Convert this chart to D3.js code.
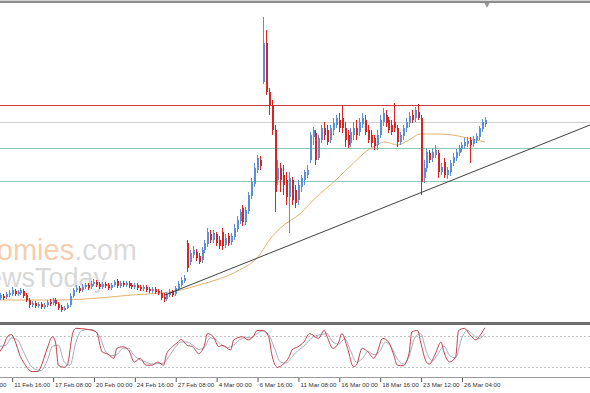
<!DOCTYPE html>
<html lang="en">
<head>
  <meta charset="UTF-8">
  <title>Price chart with stochastic</title>
  <script src="https://d3js.org/d3.v7.min.js"></script>
  <style>
    body { margin: 0; background: #fff; }
    svg { display: block; font-family: "Liberation Sans", Arial, sans-serif; }
    .axis text { font-size: 6.2px; fill: #333; }
    .axis line { stroke: #555; }
  </style>
</head>
<body>
  <svg width="590" height="393"></svg>
  <script>
    // candles: [open, high, low, close], one per bar
    const candles = [
      [102,107,100,105],[104,106,100,102],[103,108,101,106],[105,110,103,107],[106,113,104,110],
      [109,111,104,106],[106,110,104,108],[107,112,105,110],[109,111,102,104],[105,107,98,100],
      [100,102,92,95],[95,99,93,97],[97,99,92,94],[94,98,92,96],[96,98,91,93],
      [93,97,91,95],[95,100,93,98],[98,101,94,96],[97,102,95,100],[100,102,94,96],
      [96,98,90,92],[93,95,88,90],[90,94,89,92],[92,97,91,95],[95,107,93,104],
      [104,112,102,110],[110,115,108,112],[112,114,107,109],[110,116,108,113],[113,117,111,115],
      [115,117,110,112],[113,119,111,116],[116,121,114,118],[118,120,113,115],[116,118,111,113],
      [113,118,111,116],[116,118,112,114],[115,117,110,112],[112,117,110,115],[115,120,113,118],
      [119,121,112,114],[114,119,112,117],[117,119,113,115],[115,119,113,117],[117,119,112,114],
      [115,117,111,113],[113,117,111,115],[115,117,110,112],[113,115,109,111],[111,115,109,113],
      [113,115,108,110],[111,113,107,109],[109,113,107,111],[111,113,106,108],[109,111,105,107],
      [107,110,100,102],[103,107,98,101],[101,108,99,106],[105,111,103,108],[108,110,103,105],
      [106,114,104,112],[111,119,109,116],[115,123,113,120],[119,125,117,122],[157,160,128,132],
      [138,150,135,147],[145,154,142,150],[148,151,139,142],[144,147,136,138],[140,153,137,150],
      [150,160,147,157],[156,172,153,168],[166,170,157,160],[160,170,157,167],[166,168,154,157],
      [160,164,151,154],[168,172,150,154],[155,166,152,162],[164,167,154,157],[158,167,155,164],
      [163,176,160,172],[171,184,168,180],[179,191,176,188],[192,195,174,178],[178,193,175,190],
      [189,208,186,205],[204,222,201,218],[216,237,213,232],[230,245,227,242],[240,244,230,234],
      [318,383,316,357],[357,370,305,308],[308,312,285,295],[295,300,265,270],[270,275,188,208],
      [220,240,215,232],[232,237,208,220],[225,235,205,215],[220,228,195,203],[203,228,167,222],
      [220,223,195,200],[210,215,192,197],[200,220,195,215],[213,225,208,222],[220,230,215,228],
      [225,235,222,230],[240,268,237,265],[263,273,255,270],[267,270,235,240],[242,265,240,262],
      [260,275,257,272],[272,278,260,265],[270,275,255,258],[260,275,257,272],[270,282,265,277],
      [275,285,272,282],[280,287,268,272],[282,295,267,272],[272,278,253,260],[265,270,252,255],
      [257,272,253,268],[265,278,260,272],[272,280,260,265],[268,282,264,278],[276,287,272,282],
      [280,285,265,268],[270,275,257,260],[265,270,253,257],[262,265,250,254],[255,270,250,265],
      [265,285,262,280],[278,292,274,287],[285,290,273,277],[280,283,267,270],[275,280,265,268],
      [278,297,268,272],[272,275,253,258],[258,268,255,265],[264,275,260,272],[272,282,268,278],
      [277,288,273,284],[285,290,277,280],[282,293,278,290],[288,296,280,282],[282,285,205,218],
      [222,240,217,232],[232,252,228,248],[247,250,237,240],[242,252,238,248],[245,255,242,250],
      [247,250,222,228],[228,237,225,233],[238,242,222,225],[225,233,221,230],[228,240,224,237],
      [237,247,234,243],[242,251,239,248],[247,255,244,252],[251,258,248,255],[254,262,251,258],
      [256,263,253,259],[260,263,237,255],[256,264,253,261],[260,267,257,264],[263,274,260,272],
      [271,281,268,278],[276,283,273,280]
    ];

    // moving average: [bar, value]
    const maLine = [
      [0,100],[20,100],[34,102],[45,105],[55,107],[62,110],[68,115],[75,121],[82,130],[88,142],
      [93,163],[96,172],[103,187],[108,202],[115,220],[121,237],[127,252],[132,258],[136,255],
      [140,260],[144,266],[150,266],[155,265],[160,262],[166,258]
    ];

    // horizontal levels and trend line
    const redLevel = 295;
    const greyLevel = 278;
    const greenLevels = [252, 219.5];
    const trendLine = [[56.5, 105], [202, 275]];

    // stochastic oscillator: [bar, value]
    const stochMain = [
      [0,50],[1,59],[3,81],[4,82],[5,72],[7,40],[8,30],[11,12],[13,12],[14,21],[16,53],[18,78],
      [19,68],[20,24],[22,20],[23,24],[25,87],[26,94],[30,92],[33,87],[35,49],[37,45],[39,37],
      [40,56],[42,59],[44,53],[46,30],[48,37],[50,24],[52,24],[54,30],[56,24],[57,45],[59,59],
      [61,68],[62,73],[64,62],[66,59],[68,46],[70,62],[71,84],[73,78],[75,59],[76,62],[79,53],
      [80,72],[83,78],[85,72],[87,81],[88,90],[90,90],[92,78],[93,46],[95,20],[97,26],[99,40],
      [100,53],[102,59],[104,68],[106,84],[109,75],[111,90],[112,78],[114,56],[116,68],[117,84],
      [119,56],[121,21],[122,24],[124,56],[126,49],[128,37],[129,46],[131,75],[133,68],[135,40],
      [136,24],[138,23],[140,45],[141,87],[143,90],[144,68],[146,30],[147,26],[149,45],[151,68],
      [152,49],[154,30],[156,40],[157,90],[159,94],[161,81],[163,72],[164,78],[166,95]
    ];
    const stochSignal = [
      [0,60],[2,62],[4,76],[6,72],[8,50],[10,28],[12,16],[14,14],[16,30],[18,60],[20,62],[22,30],
      [24,24],[26,68],[28,90],[31,92],[34,80],[36,52],[38,42],[40,44],[42,56],[44,56],[46,42],
      [48,34],[50,30],[52,26],[54,27],[56,28],[58,42],[60,58],[62,68],[64,68],[66,62],[68,54],
      [70,58],[72,76],[74,72],[76,62],[78,58],[80,62],[82,72],[84,76],[86,76],[88,84],[90,89],
      [92,82],[94,56],[96,30],[98,28],[100,40],[102,52],[104,60],[106,72],[108,80],[110,82],
      [112,84],[114,68],[116,64],[118,74],[120,52],[122,30],[124,36],[126,50],[128,44],[130,50],
      [132,68],[134,58],[136,36],[138,26],[140,40],[142,76],[144,84],[146,50],[148,32],[150,46],
      [152,60],[154,42],[156,38],[158,74],[160,90],[162,82],[164,74],[166,84]
    ];
    const stochLevels = [80, 20];

    // time axis
    const tickBars = [-10, 4, 18, 32, 46, 60, 74, 88, 102, 116, 130, 144, 158];
    const tickLabels = ["7 Feb 00:00", "11 Feb 16:00", "17 Feb 08:00", "20 Feb 00:00", "24 Feb 16:00",
      "27 Feb 08:00", "4 Mar 00:00", "6 Mar 16:00", "11 Mar 08:00", "16 Mar 00:00",
      "18 Mar 16:00", "23 Mar 12:00", "26 Mar 04:00"];

    const svg = d3.select("svg"),
          width = +svg.attr("width");

    const x = d3.scaleLinear().domain([0, 202]).range([0, width]);
    const y = d3.scaleLinear().domain([78, 396]).range([322, 4]);
    const ys = d3.scaleLinear().domain([0, 100]).range([377.8, 325.2]);

    // window top edge
    svg.append("rect").attr("x", 0).attr("y", 0).attr("width", width).attr("height", 1).attr("fill", "#d4d4d4");
    svg.append("rect").attr("x", 0).attr("y", 1).attr("width", width).attr("height", 2).attr("fill", "#8c8c8c");
    svg.append("path")
      .attr("d", d3.symbol(d3.symbolTriangle, 14)())
      .attr("transform", "translate(487,4.5) rotate(180)")
      .attr("fill", "#999");

    // watermark
    const wm = svg.append("g");
    const t1 = wm.append("text").attr("x", 137).attr("y", 260).attr("text-anchor", "end")
      .attr("font-size", 29);
    t1.append("tspan").attr("fill", "#f6cdb1").text("Economies");
    t1.append("tspan").attr("fill", "#dadada").text(".com");
    wm.append("text").attr("x", 107).attr("y", 287).attr("text-anchor", "end")
      .attr("font-size", 27).attr("fill", "#d8d8d8").text("NewsToday");

    // horizontal levels
    const hline = (v, color) => svg.append("line")
      .attr("x1", 0).attr("x2", width)
      .attr("y1", Math.round(y(v)) + 0.5).attr("y2", Math.round(y(v)) + 0.5)
      .attr("stroke", color).attr("stroke-width", 1);
    hline(redLevel, "#cc3b47");
    hline(greyLevel, "#cfcfcf");
    greenLevels.forEach(v => hline(v, "#8ec8ba"));

    // moving average
    svg.append("path")
      .datum(maLine)
      .attr("fill", "none")
      .attr("stroke", "#e6b070")
      .attr("stroke-width", 1)
      .attr("d", d3.line().x(d => x(d[0])).y(d => y(d[1])).curve(d3.curveMonotoneX));

    // candles
    const bull = "#5b8edb", bear = "#dc2323";
    const c = svg.append("g").selectAll("g")
      .data(candles)
      .enter().append("g");
    c.append("line")
      .attr("x1", (d, i) => Math.round(x(i)) + 0.5)
      .attr("x2", (d, i) => Math.round(x(i)) + 0.5)
      .attr("y1", d => y(d[1]))
      .attr("y2", d => y(d[2]))
      .attr("stroke", d => d[3] >= d[0] ? bull : bear)
      .attr("stroke-width", 1);
    c.append("rect")
      .attr("x", (d, i) => Math.round(x(i)))
      .attr("width", 2)
      .attr("y", d => y(Math.max(d[0], d[3])))
      .attr("height", d => Math.max(1, Math.abs(y(d[0]) - y(d[3]))))
      .attr("fill", d => d[3] >= d[0] ? bull : bear);

    // trend line
    svg.append("line")
      .attr("x1", x(trendLine[0][0])).attr("y1", y(trendLine[0][1]))
      .attr("x2", x(trendLine[1][0])).attr("y2", y(trendLine[1][1]))
      .attr("stroke", "#2a2a2a").attr("stroke-width", 0.9);

    // stochastic sub-window
    svg.append("rect").attr("x", 0).attr("y", 322).attr("width", width).attr("height", 3).attr("fill", "#6e6e6e");
    svg.append("line").attr("x1", 0).attr("x2", width).attr("y1", 377.5).attr("y2", 377.5)
      .attr("stroke", "#9a9a9a");
    stochLevels.forEach(v => svg.append("line")
      .attr("x1", 0).attr("x2", width)
      .attr("y1", Math.round(ys(v)) + 0.5).attr("y2", Math.round(ys(v)) + 0.5)
      .attr("stroke", "#c4c4c4").attr("stroke-dasharray", "2,2"));

    const sline = d3.line().x(d => x(d[0])).y(d => ys(d[1])).curve(d3.curveMonotoneX);
    svg.append("path").datum(stochSignal)
      .attr("fill", "none").attr("stroke", "#a9a9bd").attr("stroke-width", 1).attr("d", sline);
    svg.append("path").datum(stochMain)
      .attr("fill", "none").attr("stroke", "#c2404e").attr("stroke-width", 1).attr("d", sline);

    // time axis
    const axis = d3.axisBottom(x)
      .tickValues(tickBars)
      .tickFormat((d, i) => tickLabels[i])
      .tickSize(4)
      .tickPadding(1);
    const ax = svg.append("g")
      .attr("class", "axis")
      .attr("transform", "translate(0,378)")
      .call(axis);
    ax.select(".domain").remove();
    ax.selectAll(".tick line").attr("transform", "translate(0.5,0)");
    ax.selectAll(".tick text")
      .attr("text-anchor", "start")
      .attr("x", 2)
      .attr("dy", "0.71em");
  </script>
</body>
</html>
